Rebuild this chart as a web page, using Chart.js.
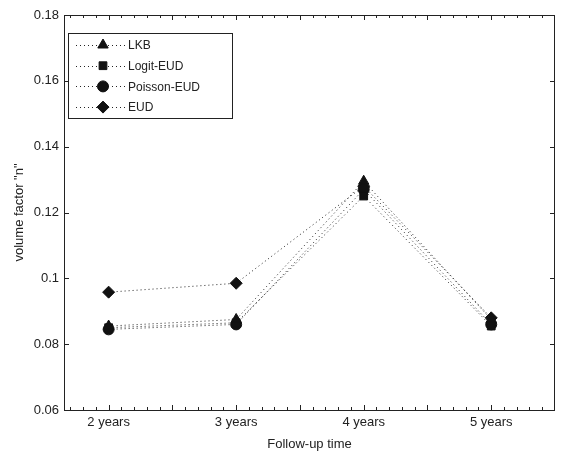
<!DOCTYPE html>
<html>
<head>
<meta charset="utf-8">
<script src="https://cdn.jsdelivr.net/npm/chart.js@4"></script>
<style>
  html, body { margin: 0; padding: 0; background: #fff; }
  #wrap { width: 562px; height: 456px; }
</style>
</head>
<body>
<div id="wrap"><canvas id="grafico"></canvas></div>
<script>
// follow-up times (x position = 2..5)
const categorias = ["2 years", "3 years", "4 years", "5 years"];
const posicoes = [2, 3, 4, 5];

const lkb = [0.0855, 0.0875, 0.1295, 0.0875];
const logitEud = [0.0850, 0.0865, 0.1250, 0.0855];
const poissonEud = [0.0845, 0.0860, 0.1270, 0.0860];
const eud = [0.0958, 0.0985, 0.1280, 0.0880];

const yTicks = [0.06, 0.08, 0.1, 0.12, 0.14, 0.16, 0.18];

const fonte = "'Liberation Sans', Arial, sans-serif";

function pontos(valores) {
  return valores.map((v, i) => ({ x: posicoes[i], y: v }));
}

function serie(label, valores, estilo, raio) {
  return {
    label: label,
    data: pontos(valores),
    borderColor: "#222",
    backgroundColor: "#111",
    borderWidth: 1,
    borderDash: [1, 3],
    pointStyle: estilo,
    pointRadius: raio,
    pointHoverRadius: raio,
    pointBorderWidth: 1,
    pointBorderColor: "#111",
    pointBackgroundColor: "#111",
    tension: 0,
    fill: false
  };
}

// inward ticks + box lines, MATLAB style
const eixosPlugin = {
  id: "eixos",
  afterDraw(chart) {
    const { ctx, chartArea: a, scales } = chart;
    const x = scales.x, y = scales.y;
    ctx.save();
    ctx.strokeStyle = "#222";
    ctx.lineWidth = 1;
    ctx.strokeRect(a.left + 0.5, a.top + 0.5, a.right - a.left - 1, a.bottom - a.top);
    ctx.beginPath();
    yTicks.forEach(v => {
      const py = Math.round(y.getPixelForValue(v)) + 0.5;
      ctx.moveTo(a.left, py);
      ctx.lineTo(a.left + 5, py);
      ctx.moveTo(a.right, py);
      ctx.lineTo(a.right - 5, py);
    });
    for (let k = 17; k <= 54; k++) {
      const v = k / 10;
      const px = Math.round(x.getPixelForValue(v)) + 0.5;
      const len = (k % 5 === 0) ? 5 : 3;
      ctx.moveTo(px, a.bottom);
      ctx.lineTo(px, a.bottom - len);
      ctx.moveTo(px, a.top);
      ctx.lineTo(px, a.top + len);
    }
    ctx.stroke();
    ctx.restore();
  }
};

// legend box with dotted line sample and marker in the middle
const legendaPlugin = {
  id: "legendaMatlab",
  afterDatasetsDraw(chart) {
    const ctx = chart.ctx;
    const bx = 68, by = 33, bw = 164, bh = 85;
    ctx.save();
    ctx.fillStyle = "#fff";
    ctx.fillRect(bx, by, bw, bh);
    ctx.strokeStyle = "#222";
    ctx.lineWidth = 1;
    ctx.strokeRect(bx + 0.5, by + 0.5, bw, bh);
    chart.data.datasets.forEach((ds, i) => {
      const cy = 45 + i * 20.7;
      ctx.save();
      ctx.setLineDash(ds.borderDash);
      ctx.strokeStyle = ds.borderColor;
      ctx.beginPath();
      ctx.moveTo(76, Math.round(cy) + 0.5);
      ctx.lineTo(126, Math.round(cy) + 0.5);
      ctx.stroke();
      ctx.restore();
      ctx.fillStyle = "#111";
      ctx.strokeStyle = "#111";
      Chart.helpers.drawPoint(ctx, { pointStyle: ds.pointStyle, radius: ds.pointRadius, borderWidth: 1 }, 103, cy);
      ctx.fillStyle = "#222";
      ctx.font = "12px " + fonte;
      ctx.textBaseline = "middle";
      ctx.fillText(ds.label, 128, cy + 1);
    });
    ctx.restore();
  }
};

new Chart(document.getElementById("grafico"), {
  type: "line",
  data: {
    datasets: [
      serie("LKB", lkb, "triangle", 6),
      serie("Logit-EUD", logitEud, "rect", 5.5),
      serie("Poisson-EUD", poissonEud, "circle", 5.5),
      serie("EUD", eud, "rectRot", 6)
    ]
  },
  options: {
    responsive: true,
    maintainAspectRatio: false,
    animation: false,
    layout: { padding: { top: 15, right: 7, left: 12, bottom: 4 } },
    plugins: {
      legend: { display: false },
      tooltip: { enabled: false }
    },
    scales: {
      x: {
        type: "linear",
        min: 1.65,
        max: 5.5,
        grid: { display: false, drawTicks: false },
        border: { display: false },
        afterBuildTicks(scale) {
          scale.ticks = posicoes.map(v => ({ value: v }));
        },
        afterFit(scale) { scale.height = 42; },
        ticks: {
          autoSkip: false,
          maxRotation: 0,
          padding: 5,
          color: "#222",
          font: { family: fonte, size: 13 },
          callback: (v) => categorias[posicoes.indexOf(v)] || ""
        },
        title: {
          display: true,
          text: "Follow-up time",
          color: "#222",
          font: { family: fonte, size: 13 },
          padding: { top: 0, bottom: 0 }
        }
      },
      y: {
        min: 0.06,
        max: 0.18,
        grid: { display: false, drawTicks: false },
        border: { display: false },
        afterBuildTicks(scale) {
          scale.ticks = yTicks.map(v => ({ value: v }));
        },
        afterFit(scale) { scale.width = 52; },
        ticks: {
          padding: 5,
          color: "#222",
          font: { family: fonte, size: 13 },
          callback: (v) => String(+v.toFixed(2))
        },
        title: {
          display: true,
          text: "volume factor \"n\"",
          color: "#222",
          font: { family: fonte, size: 13 },
          padding: { top: 0, bottom: 0 }
        }
      }
    }
  },
  plugins: [eixosPlugin, legendaPlugin]
});
</script>
</body>
</html>
